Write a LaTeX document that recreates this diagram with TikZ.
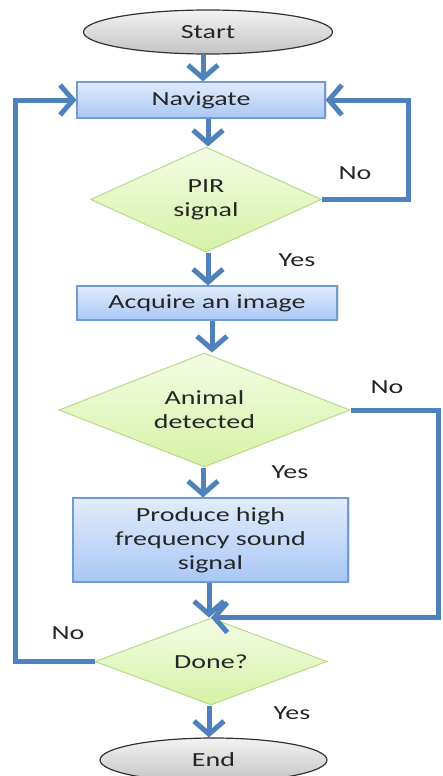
\documentclass[tikz,border=0pt]{standalone}
\usepackage{fontspec}
\setmainfont{Carlito}[FakeStretch=1.4]
\usepackage{tikz}
\usetikzlibrary{shapes.geometric,arrows.meta,shadows}

\definecolor{flowblue}{RGB}{79,129,189}
\definecolor{boxtop}{RGB}{226,236,251}
\definecolor{boxbot}{RGB}{168,199,246}
\definecolor{boxline}{RGB}{113,155,213}
\definecolor{dectop}{RGB}{244,252,228}
\definecolor{decbot}{RGB}{214,242,166}
\definecolor{decline}{RGB}{184,217,140}
\definecolor{termtop}{RGB}{242,242,242}
\definecolor{termbot}{RGB}{196,196,196}

\tikzset{
  every node/.style={font=\fontsize{20}{24}\selectfont, text=black!85},
  procbox/.style={rectangle, draw=boxline, line width=1.2pt, top color=boxtop, bottom color=boxbot, inner sep=0pt, align=center, drop shadow={shadow xshift=1.5pt, shadow yshift=1.5pt, opacity=0.25}},
  decbox/.style={diamond, aspect=2.6, draw=decline, line width=1pt, top color=dectop, bottom color=decbot, inner sep=0pt, align=center},
  termbox/.style={ellipse, draw=black!80, line width=1.2pt, top color=termtop, bottom color=termbot, inner sep=0pt},
  flow/.style={draw=flowblue, line width=5pt, -{Straight Barb[length=13pt,width=30pt]}},
}

\begin{document}
\begin{tikzpicture}[x=1pt,y=1pt,yscale=-1]
\useasboundingbox (0,0) rectangle (443,776);

%Shape: terminals
\node[termbox, minimum width=249pt, minimum height=44pt] (start) at (208,32) {Start};
\node[termbox, minimum width=227pt, minimum height=44pt] (end) at (213.5,760) {End};

%Shape: process boxes
\node[procbox, minimum width=248pt, minimum height=36pt] (nav) at (201,100) {Navigate};
\node[procbox, minimum width=260pt, minimum height=34pt] (acq) at (207,303) {Acquire an image};
\node[procbox, minimum width=275pt, minimum height=84pt] (prod) at (210.5,540) {Produce high\\frequency sound\\signal};

%Shape: decisions
\node[decbox, minimum width=231pt, minimum height=105pt] (pir) at (206,199.5) {PIR\\signal};
\node[decbox, minimum width=291pt, minimum height=114pt] (animal) at (204.5,410) {Animal\\detected};
\node[decbox, minimum width=232pt, minimum height=87pt] (done) at (211,661.5) {Done?};

%loop corners
\coordinate (pirloop) at (408,0);
\coordinate (animalloop) at (438,0);
\coordinate (doneloop) at (15,0);

%Connectors
\draw[flow] (start.south -| 203,0) -- (nav.north -| 203,0);
\draw[flow] (nav.south -| 208,0) -- (pir.north -| 208,0);
\draw[flow] (pir.south -| 208,0) -- (acq.north -| 208,0);
\draw[flow] (acq.south -| 212,0) -- (animal.north -| 212,0);
\draw[flow] (animal.south -| 203,0) -- (prod.north -| 203,0);
\draw[flow] (prod.south -| 209,0) -- (done.north -| 209,0);
\draw[flow] (done.south -| 209,0) -- (end.north -| 209,0);
\draw[flow] (pir.east) -- (pir.east -| pirloop) |- (nav.east);
\draw[flow] (animal.east) -- (animal.east -| animalloop) |- (done.north);
\draw[flow] (done.west) -- (done.west -| doneloop) |- (nav.west);

%Labels
\node (pirno) at (355,173) {No};
\node (piryes) at (297,260) {Yes};
\node (animalno) at (387,387) {No};
\node (animalyes) at (290,472) {Yes};
\node (doneno) at (68,633) {No};
\node (doneyes) at (292,713) {Yes};

\end{tikzpicture}
\end{document}
